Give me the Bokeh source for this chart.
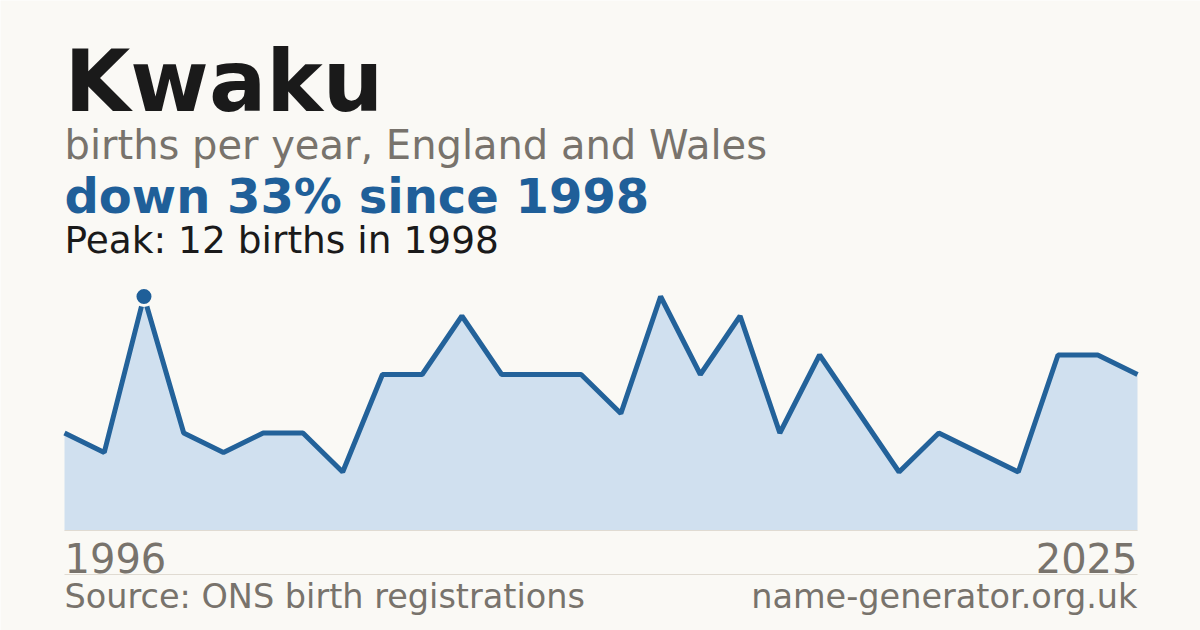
from bokeh.plotting import figure
from bokeh.models import Label, Range1d
from bokeh.embed import file_html
from bokeh.resources import INLINE

# ---- data ----
name = "Kwaku"
subtitle = "births per year, England and Wales"
source_text = "Source: ONS birth registrations"
site_text = "name-generator.org.uk"
years = [1996, 1997, 1998, 1999, 2000, 2001, 2002, 2003, 2004, 2005,
         2006, 2007, 2008, 2009, 2010, 2011, 2012, 2013, 2014, 2015,
         2016, 2017, 2018, 2019, 2021, 2022, 2024, 2025]
births = [5, 4, 12, 5, 4, 5, 5, 3, 8, 8,
          11, 8, 8, 8, 6, 12, 8, 11, 5, 9,
          6, 3, 5, 4, 3, 9, 9, 8]
first_label = "1996"
last_label = "2025"

# ---- derived ----
n = len(births)
idx = list(range(n))
peak = max(births)
peak_i = births.index(peak)
peak_year = years[peak_i]
change = round((births[-1] - peak) / peak * 100)
headline = f"{'down' if change < 0 else 'up'} {abs(change)}% since {peak_year}"
peak_text = f"Peak: {peak} births in {peak_year}"

# ---- style / layout ----
BG = "#faf9f5"
DARK = "#1a1a1a"
GREY = "#78736c"
BLUE = "#1f5f99"
LINE = "#23629a"
FILL = "#d0e0ef"
RULE = "#e0dbd2"
FONT = "DejaVu Sans"

W, H = 1200, 630
LEFT, RIGHT, TOP, BASE = 64, 1137, 296, 530  # page px of plot area

xpx = (RIGHT - LEFT) / (n - 1)
ypx = (BASE - TOP) / peak
x_range = Range1d(-LEFT / xpx, (n - 1) + (W - RIGHT) / xpx)
y_range = Range1d(-(H - BASE) / ypx, peak + TOP / ypx)

p = figure(width=W, height=H, x_range=x_range, y_range=y_range,
           toolbar_location=None, output_backend="svg",
           x_axis_location=None, y_axis_location=None,
           min_border=0, background_fill_color=BG, border_fill_color=BG,
           outline_line_color=None)
p.grid.visible = False

p.varea(x=idx, y1=[0] * n, y2=births, fill_color=FILL)
p.segment(x0=[0], y0=[0], x1=[n - 1], y1=[0], line_color=RULE, line_width=1)
p.line(idx, births, line_color=LINE, line_width=5)
p.scatter([peak_i], [peak], size=18, fill_color=BLUE, line_color=BG, line_width=3)

sep_y = -(574 - BASE) / ypx
p.segment(x0=[0], y0=[sep_y], x1=[n - 1], y1=[sep_y], line_color=RULE, line_width=1)


def label(text, px, py, size, color, bold=False, align="left"):
    p.add_layout(Label(x=px, y=H - py, x_units="screen", y_units="screen",
                       text=text, text_font=FONT, text_font_size=f"{size}px",
                       text_color=color, text_align=align,
                       text_baseline="alphabetic",
                       text_font_style="bold" if bold else "normal"))


label(name, 64, 81, 85, DARK, bold=True)
label(subtitle, 64, 144, 40, GREY)
label(headline, 64, 195, 48, BLUE, bold=True)
label(peak_text, 64, 239, 37.5, DARK)
label(first_label, 64, 557, 40, GREY)
label(last_label, 1137, 557, 40, GREY, align="right")
label(source_text, 64, 596, 33.5, GREY)
label(site_text, 1137, 596, 33.5, GREY, align="right")

html = file_html(p, INLINE)
html = html.replace("<body>", f'<body style="background:{BG}">', 1)
open("out.html", "w").write(html)
